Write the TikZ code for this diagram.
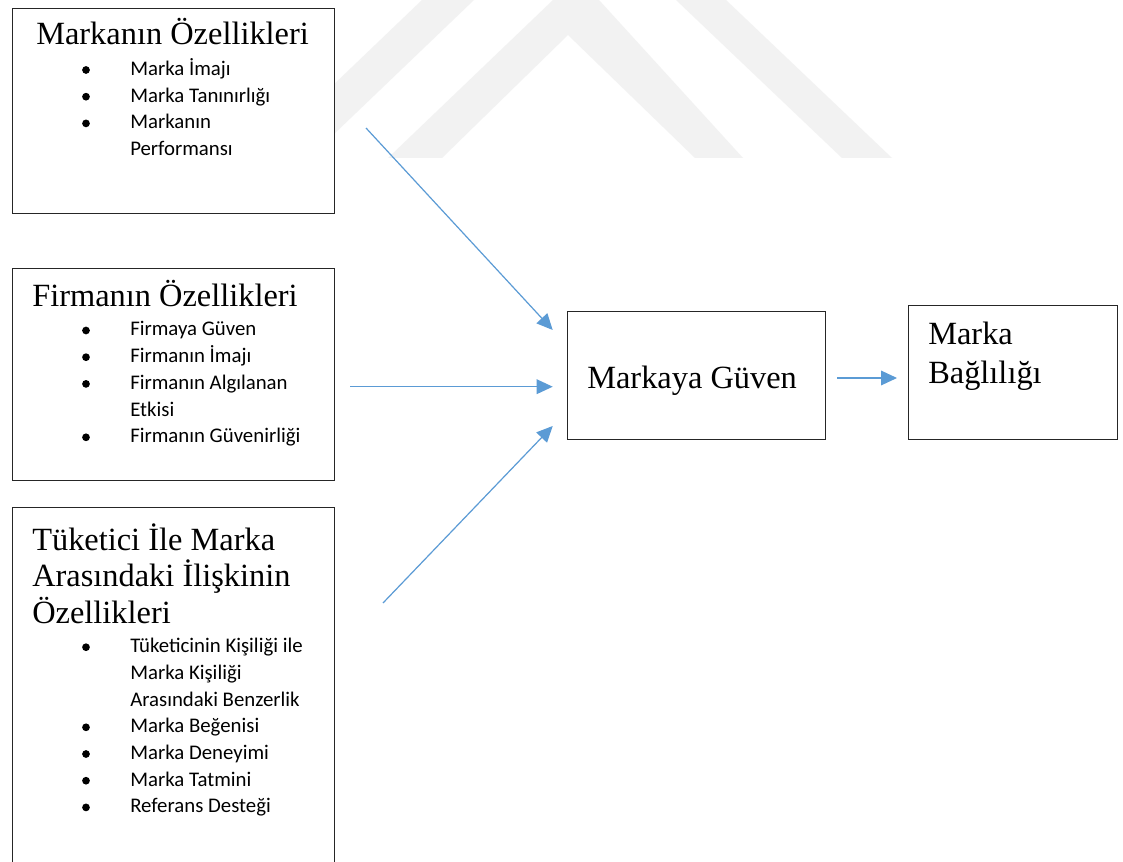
\documentclass[tikz,border=0pt]{standalone}
\usepackage{fontspec}
\setmainfont{Liberation Serif}
\newfontfamily\calib{Carlito}
\usetikzlibrary{arrows.meta}
\definecolor{arrowblue}{HTML}{5B9BD5}
\definecolor{wmgray}{RGB}{242,242,242}
\begin{document}
\begin{tikzpicture}[x=0.75pt,y=-0.75pt,
  box/.style={draw=black!85, line width=1pt, fill=white, anchor=north west, inner sep=0pt},
  titletext/.style={anchor=base west, inner sep=0pt, font=\fontsize{24.3}{28}\selectfont},
  itemtext/.style={anchor=base west, inner sep=0pt, font=\calib\fontsize{15.6}{19}\selectfont},
  bdot/.style={circle, fill=black, draw=none, inner sep=0pt, minimum size=5.8pt},
  conn/.style={draw=arrowblue, line width=0.9pt, -{Triangle[length=12pt,width=11pt]}}]
\useasboundingbox (0,0) rectangle (1123,862);
\fill[white] (0,0) rectangle (1123,862);
% watermark
\fill[wmgray] (422,0) -- (474,0) -- (309,158) -- (257,158) -- cycle;
\fill[wmgray] (553,0) -- (599,0) -- (743,158) -- (695,158) -- (568,35) -- (442,158) -- (388,158) -- cycle;
\fill[wmgray] (676,0) -- (726,0) -- (892,158) -- (842,158) -- cycle;
% boxes
\node[box, minimum width=241.5pt, minimum height=153.75pt] (b1) at (12,8) {};
\node[box, minimum width=241.5pt, minimum height=159pt] (b2) at (12,268) {};
\node[box, minimum width=241.5pt, minimum height=279.75pt] (b3) at (12,507) {};
\node[box, minimum width=193.5pt, minimum height=96pt] (b4) at (567,311) {};
\node[box, minimum width=156.75pt, minimum height=100.5pt] (b5) at (908,305) {};
% box 1
\node[titletext] (t1) at (36,45) {Markanın Özellikleri};
\node[bdot] (d11) at (86,70) {};
\node[itemtext] (i11) at (130,75.5) {Marka İmajı};
\node[bdot] (d12) at (86,96.7) {};
\node[itemtext] (i12) at (130,102.2) {Marka Tanınırlığı};
\node[bdot] (d13) at (86,123.4) {};
\node[itemtext] (i13) at (130,128.9) {Markanın};
\node[itemtext] (i13b) at (130,155.6) {Performansı};
% box 2
\node[titletext] (t2) at (32,306.7) {Firmanın Özellikleri};
\node[bdot] (d21) at (86,330.5) {};
\node[itemtext] (i21) at (130,336) {Firmaya Güven};
\node[bdot] (d22) at (86,357.2) {};
\node[itemtext] (i22) at (130,362.7) {Firmanın İmajı};
\node[bdot] (d23) at (86,383.9) {};
\node[itemtext] (i23) at (130,389.4) {Firmanın Algılanan};
\node[itemtext] (i23b) at (130,416.1) {Etkisi};
\node[bdot] (d24) at (86,437.3) {};
\node[itemtext] (i24) at (130,442.8) {Firmanın Güvenirliği};
% box 3
\node[titletext] (t3a) at (32,550) {Tüketici İle Marka};
\node[titletext] (t3b) at (32,586.5) {Arasındaki İlişkinin};
\node[titletext] (t3c) at (32,623) {Özellikleri};
\node[bdot] (d31) at (86,647.2) {};
\node[itemtext] (i31) at (130,652.7) {Tüketicinin Kişiliği ile};
\node[itemtext] (i31b) at (130,679.4) {Marka Kişiliği};
\node[itemtext] (i31c) at (130,706.1) {Arasındaki Benzerlik};
\node[bdot] (d32) at (86,727.3) {};
\node[itemtext] (i32) at (130,732.8) {Marka Beğenisi};
\node[bdot] (d33) at (86,754) {};
\node[itemtext] (i33) at (130,759.5) {Marka Deneyimi};
\node[bdot] (d34) at (86,780.7) {};
\node[itemtext] (i34) at (130,786.2) {Marka Tatmini};
\node[bdot] (d35) at (86,807.4) {};
\node[itemtext] (i35) at (130,812.9) {Referans Desteği};
% box 4 and 5
\node[titletext] (t4) at (587,388) {Markaya Güven};
\node[titletext] (t5a) at (928,345) {Marka};
\node[titletext] (t5b) at (928,383) {Bağlılığı};
% connectors
\coordinate (s1) at (366,128);
\coordinate (e1) at (552.7,330);
\coordinate (s2) at (350,386.7);
\coordinate (e2) at (552.7,386.7);
\coordinate (s3) at (383,603);
\coordinate (e3) at (552.7,426);
\coordinate (s4) at (837,378);
\coordinate (e4) at (897,378);
\draw[conn] (s1) -- (e1);
\draw[conn] (s2) -- (e2);
\draw[conn] (s3) -- (e3);
\draw[conn] (s4) -- (e4);
\end{tikzpicture}
\end{document}
